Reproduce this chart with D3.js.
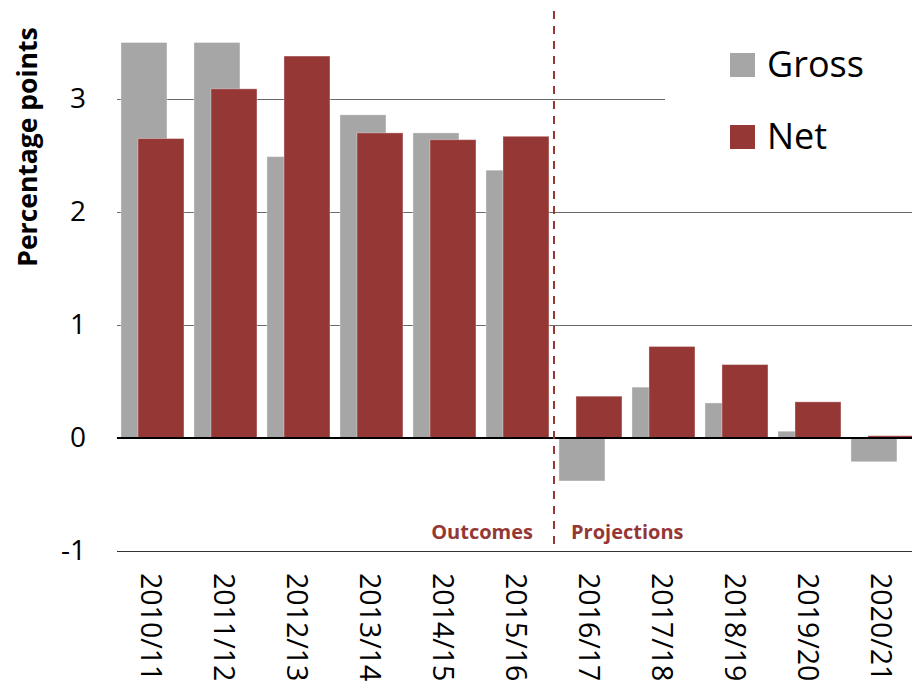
<!DOCTYPE html>
<html>
<head>
<meta charset="utf-8">
<script src="https://cdn.jsdelivr.net/npm/d3@7"></script>
<style>
  html, body { margin: 0; padding: 0; background: #fff; overflow: hidden; }
  svg { display: block; }
</style>
</head>
<body>
<svg id="chart" width="912" height="683"></svg>
<script>
// Fiscal years on the category axis
const years = ["2010/11", "2011/12", "2012/13", "2013/14", "2014/15", "2015/16",
               "2016/17", "2017/18", "2018/19", "2019/20", "2020/21"];
// Series values, percentage points
const gross = [3.5, 3.5, 2.49, 2.86, 2.70, 2.37, -0.38, 0.45, 0.31, 0.06, -0.21];
const net   = [2.65, 3.09, 3.38, 2.70, 2.64, 2.67, 0.37, 0.81, 0.65, 0.32, 0.02];
// Value axis ticks
const yTicks = [-1, 0, 1, 2, 3];
const seriesNames = ["Gross", "Net"];
const seriesColors = ["#a6a6a6", "#953735"];
// Number of years that are outturns; the rest are projections
const outcomeCount = 6;

const svg = d3.select("#chart");
const font = "'Open Sans', 'Liberation Sans', sans-serif";

const plotLeft = 116, plotTop = 11;
const x = d3.scaleBand().domain(years).range([plotLeft, plotLeft + 73 * years.length]).padding(0);
const y = d3.scaleLinear().domain([-1, 3]).range([551, 99]);

// Gridlines and tick labels
const axis = d3.axisLeft(y)
  .tickValues(yTicks)
  .tickSize(-(912 - plotLeft))
  .tickPadding(31)
  .tickFormat(d => String(d));

const gAxis = svg.append("g")
  .attr("transform", `translate(${plotLeft + 1},0)`)
  .call(axis);
gAxis.select(".domain").remove();
gAxis.selectAll(".tick line")
  .attr("stroke", d => d === 0 ? "#000" : (d === -1 ? "#333" : "#6a6a6a"))
  .attr("stroke-width", d => d === 0 ? 1.5 : 1.2)
  .attr("shape-rendering", "crispEdges");
gAxis.selectAll(".tick text")
  .attr("fill", "#000")
  .style("font-family", font)
  .style("font-size", "28px");

// Legend panel sits over the plot area
svg.append("rect")
  .attr("x", 665).attr("y", 20).attr("width", 247).attr("height", 165)
  .attr("fill", "#fff");

// Bars: gross sits behind, net overlaps it shifted to the right
const bw = x.bandwidth();
const barW = bw * 0.63;
const offsets = [bw * 0.068, bw * 0.301];
const seriesData = [gross, net];

seriesData.forEach((vals, si) => {
  svg.append("g").selectAll("rect")
    .data(vals)
    .join("rect")
    .attr("x", (d, i) => x(years[i]) + offsets[si])
    .attr("width", barW)
    .attr("y", d => Math.min(y(d), y(0)))
    .attr("height", d => Math.abs(y(d) - y(0)))
    .attr("fill", seriesColors[si])
    .attr("stroke", "#fff")
    .attr("stroke-opacity", 0.35)
    .attr("stroke-width", 1);
});

// Redraw the zero line on top of the bars
svg.append("line")
  .attr("x1", plotLeft + 1).attr("x2", 912)
  .attr("y1", y(0)).attr("y2", y(0))
  .attr("stroke", "#000").attr("stroke-width", 1.5)
  .attr("shape-rendering", "crispEdges");

// Divider between outcomes and projections
const divX = x(years[outcomeCount]);
svg.append("line")
  .attr("x1", divX).attr("x2", divX)
  .attr("y1", plotTop).attr("y2", y(-1))
  .attr("stroke", "#953735")
  .attr("stroke-width", 2)
  .attr("stroke-dasharray", "8,7");

svg.append("text")
  .attr("x", divX - 21).attr("y", 539)
  .attr("text-anchor", "end")
  .attr("fill", "#953735")
  .style("font-family", font).style("font-size", "20px").style("font-weight", "700")
  .text("Outcomes");

svg.append("text")
  .attr("x", divX + 17).attr("y", 539)
  .attr("text-anchor", "start")
  .attr("fill", "#953735")
  .style("font-family", font).style("font-size", "20px").style("font-weight", "700")
  .text("Projections");

// Category labels, rotated to read downward
svg.append("g").selectAll("text")
  .data(years)
  .join("text")
  .attr("transform", d => `translate(${x(d) + bw / 2},573) rotate(90)`)
  .attr("dy", "0.41em")
  .attr("text-anchor", "start")
  .attr("fill", "#000")
  .style("font-family", font)
  .style("font-size", "28.5px")
  .text(d => d);

// Value axis title
svg.append("text")
  .attr("transform", "translate(37,147) rotate(-90)")
  .attr("text-anchor", "middle")
  .attr("fill", "#000")
  .style("font-family", font)
  .style("font-size", "26.5px")
  .style("font-weight", "700")
  .text("Percentage points");

// Legend
const legend = svg.append("g").selectAll("g")
  .data(seriesNames)
  .join("g")
  .attr("transform", (d, i) => `translate(730,${53 + i * 72})`);
legend.append("rect")
  .attr("width", 25).attr("height", 24)
  .attr("fill", (d, i) => seriesColors[i]);
legend.append("text")
  .attr("x", 37).attr("y", 24)
  .attr("fill", "#000")
  .style("font-family", font)
  .style("font-size", "36px")
  .text(d => d);
</script>
</body>
</html>
